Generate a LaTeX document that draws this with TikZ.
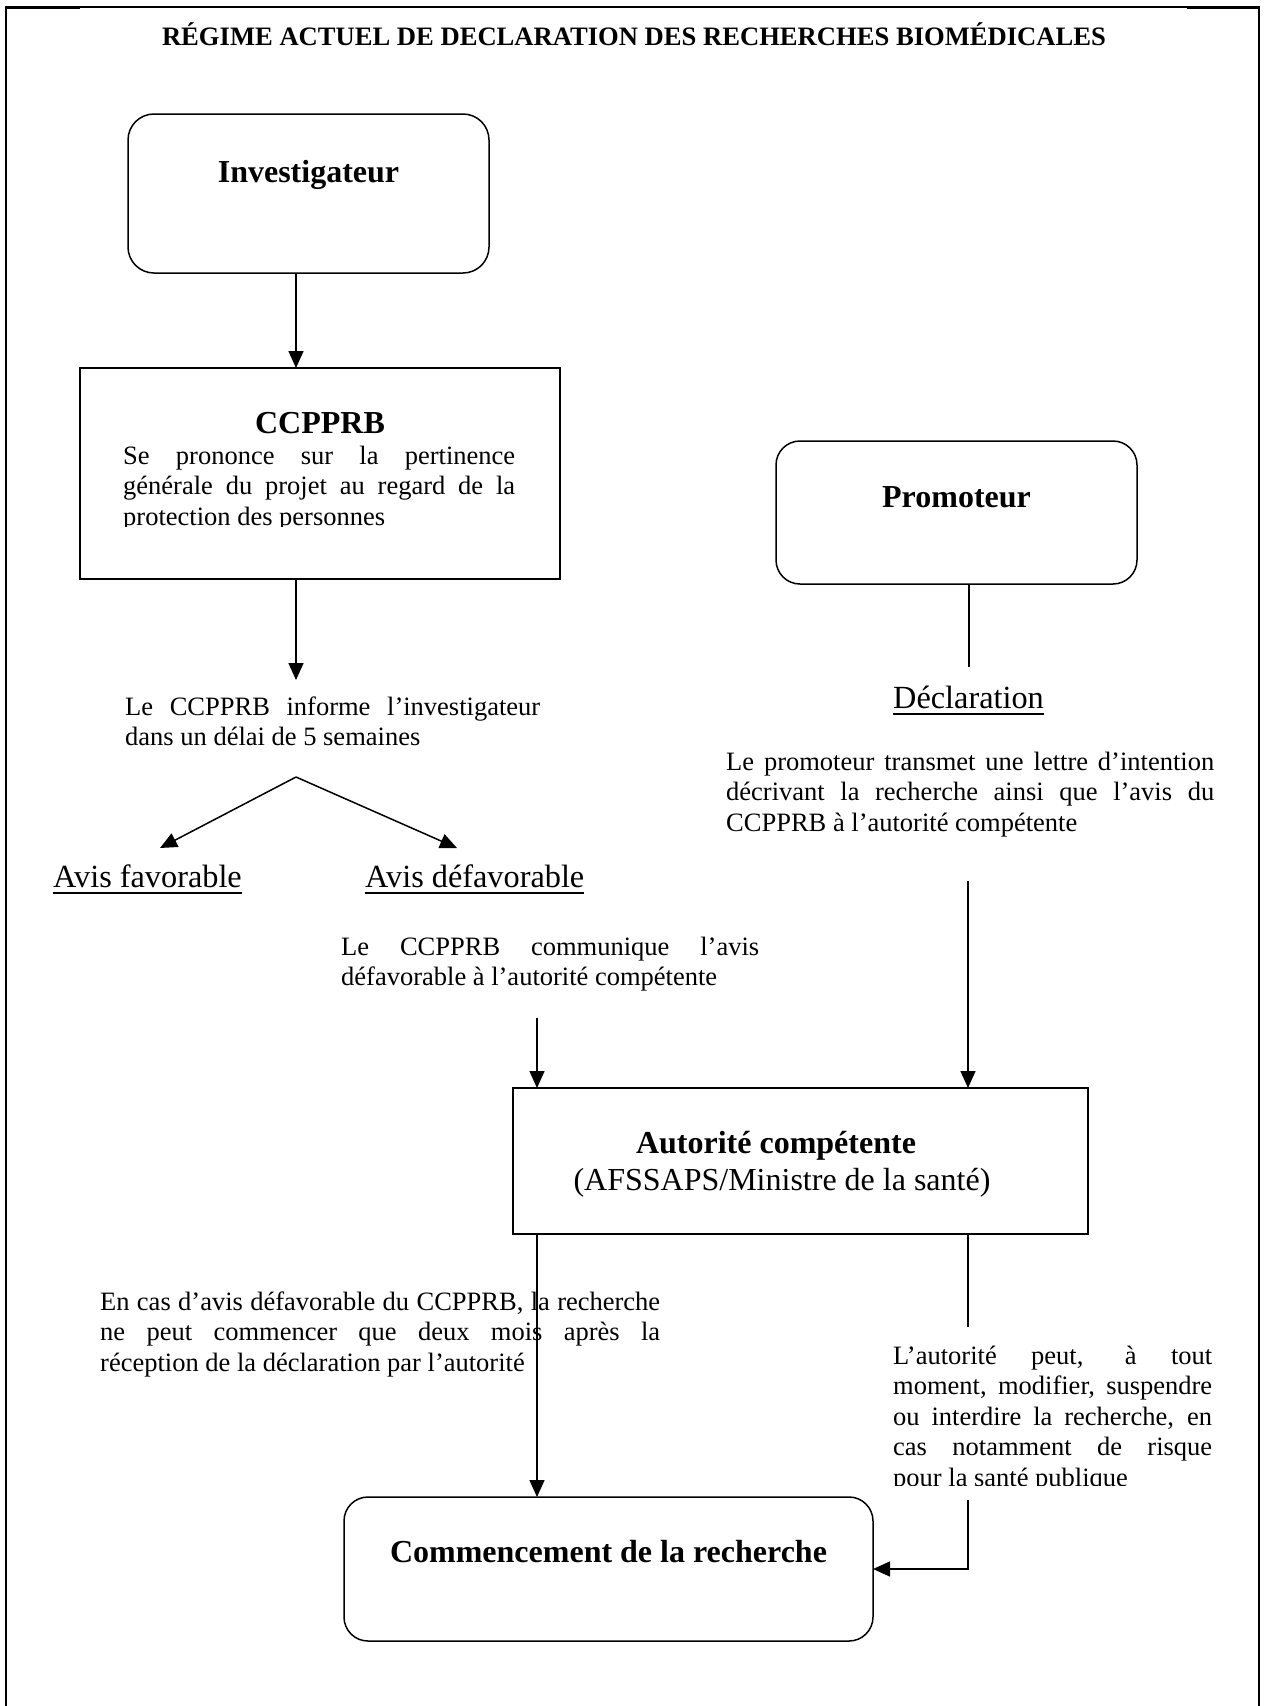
\documentclass[tikz,border=0pt]{standalone}
\usepackage{fontspec}
\setmainfont{Liberation Serif}
\usetikzlibrary{arrows.meta}
\newcommand\jline[2]{\makebox[#1][s]{#2}}
\newcommand\ulword[1]{\setbox0=\hbox{#1}\rlap{\rule[-6.5pt]{\wd0}{1.8pt}}\box0}
\begin{document}
\begin{tikzpicture}[x=1pt,y=-1pt,
  box/.style={draw, line width=1.5pt, inner sep=0pt, outer sep=0pt},
  rbox/.style={box, rounded corners=#1},
  body/.style={inner sep=0pt, anchor=base west, align=left, font=\fontsize{26.5}{30.5}\selectfont},
  head/.style={inner sep=0pt, anchor=base, font=\fontsize{32}{37}\selectfont\bfseries},
  big/.style={inner sep=0pt, anchor=base, font=\fontsize{32}{37}\selectfont},
  ln/.style={line width=1.5pt},
  arr/.style={line width=1.5pt, -{Triangle[length=17pt,width=15pt]}}]
\useasboundingbox (0,0) rectangle (1266,1706);
% frame
\draw[line width=1.8pt] (6,1706) -- (6,7) -- (1259,7) -- (1259,1706);
\draw[line width=3pt] (6,7.6) -- (80,7.6);
\draw[line width=3pt] (1187,7.6) -- (1259,7.6);
% title
\node[inner sep=0pt, anchor=base, font=\fontsize{26.6}{30}\selectfont\bfseries] (title) at (634,45)
  {RÉGIME ACTUEL DE DECLARATION DES RECHERCHES BIOMÉDICALES};
% boxes
\node[rbox=26pt, minimum width=361pt, minimum height=159pt] (invbox) at (308.5,193.5) {};
\node[box, minimum width=480pt, minimum height=211pt] (ccpbox) at (320,473.5) {};
\node[rbox=24pt, minimum width=361pt, minimum height=143pt] (probox) at (956.5,512.5) {};
\node[box, minimum width=575pt, minimum height=146pt] (autbox) at (800.5,1161) {};
\node[rbox=24pt, minimum width=529pt, minimum height=144pt] (combox) at (608.5,1569) {};
% box labels
\node[head] (invlbl) at (308.5,182) {Investigateur};
\node[head] (ccplbl) at (320,433) {CCPPRB};
\node[head] (prolbl) at (956.5,507) {Promoteur};
\node[head] (autlbl) at (776,1153) {Autorité compétente};
\node[big] (autsub) at (782,1190) {(AFSSAPS/Ministre de la santé)};
\node[head] (comlbl) at (608.5,1562) {Commencement de la recherche};
% CCPPRB body (clipped), anchored at the last line's baseline
\begin{scope}
\clip (82,370) rectangle (558,526);
\node[body] (ccptxt) at (123,525) {\jline{392pt}{Se prononce sur la pertinence}\\
  \jline{392pt}{générale du projet au regard de la}\\
  protection des personnes};
\end{scope}
% free texts
\node[body] (inftxt) at (125,745.5) {\jline{415pt}{Le CCPPRB informe l’investigateur}\\
  dans un délai de 5 semaines};
\node[inner sep=0pt, anchor=base west, font=\fontsize{32.3}{37}\selectfont] (fav) at (53,887) {\ulword{Avis favorable}};
\node[inner sep=0pt, anchor=base west, font=\fontsize{32.3}{37}\selectfont] (defav) at (365,887) {\ulword{Avis défavorable}};
\node[inner sep=0pt, anchor=base, font=\fontsize{32.3}{37}\selectfont] (decl) at (968.5,708) {\ulword{Déclaration}};
\node[body] (protxt) at (726,831) {\jline{488pt}{Le promoteur transmet une lettre d’intention}\\
  \jline{488pt}{décrivant la recherche ainsi que l’avis du}\\
  CCPPRB à l’autorité compétente};
\node[body] (comtxt) at (341,985.5) {\jline{418pt}{Le CCPPRB communique l’avis}\\
  défavorable à l’autorité compétente};
\node[body] (encas) at (100,1371) {\jline{560pt}{En cas d’avis défavorable du CCPPRB, la recherche}\\
  \jline{560pt}{ne peut commencer que deux mois après la}\\
  réception de la déclaration par l’autorité};
% coordinates
\coordinate (xa) at (296,0);
\coordinate (t2) at (296,680);
\coordinate (apex) at (296,777);
\coordinate (tf) at (160,848);
\coordinate (td) at (457,848);
\coordinate (pend) at (969,667);
\coordinate (ps) at (968,881);
\coordinate (cs) at (537,1018);
% connectors
\draw[arr] (invbox.south -| xa) -- (ccpbox.north -| xa);
\draw[arr] (ccpbox.south -| t2) -- (t2);
\draw[arr] (apex) -- (tf);
\draw[arr] (apex) -- (td);
\draw[ln] (probox.south -| pend) -- (pend);
\draw[arr] (ps) -- (autbox.north -| ps);
\draw[arr] (cs) -- (autbox.north -| cs);
\draw[arr] (autbox.south -| cs) -- (combox.north -| cs);
\draw[arr] (autbox.south -| ps) |- (combox.east);
% right text box with white background
\fill[white] (880,1327) rectangle (1225,1500);
\begin{scope}
\clip (880,1327) rectangle (1225,1485);
\node[body] (autrite) at (893,1486) {\jline{319pt}{L’autorité peut, à tout}\\
  \jline{319pt}{moment, modifier, suspendre}\\
  \jline{319pt}{ou interdire la recherche, en}\\
  \jline{319pt}{cas notamment de risque}\\
  pour la santé publique};
\end{scope}
\end{tikzpicture}
\end{document}
